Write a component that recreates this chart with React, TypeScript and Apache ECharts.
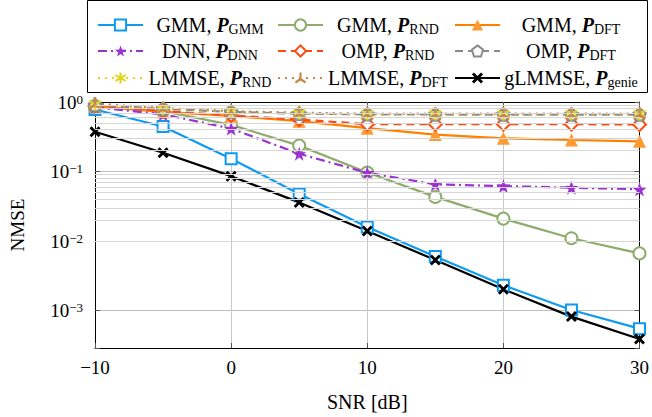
import React, { useEffect, useRef } from 'react';
import * as echarts from 'echarts';

// ---------- data ----------
const snr = [-10, -5, 0, 5, 10, 15, 20, 25, 30];
const gmmPgmm = [0.78, 0.445, 0.153, 0.0476, 0.0159, 0.006, 0.00232, 0.00102, 0.00055];
const gmmPrnd = [0.85, 0.74, 0.469, 0.236, 0.0968, 0.0432, 0.021, 0.011, 0.00665];
const gmmPdft = [0.87, 0.72, 0.63, 0.53, 0.42, 0.34, 0.3, 0.284, 0.272];
const dnnPdnn = [0.84, 0.665, 0.415, 0.18, 0.096, 0.0654, 0.0618, 0.0587, 0.0555];
const ompPrnd = [0.88, 0.74, 0.64, 0.56, 0.48, 0.48, 0.48, 0.48, 0.475];
const ompPdft = [0.9, 0.8, 0.72, 0.68, 0.665, 0.66, 0.66, 0.66, 0.66];
const lmmsePrnd = [0.93, 0.8, 0.73, 0.69, 0.67, 0.67, 0.67, 0.67, 0.67];
const lmmsePdft = [0.95, 0.82, 0.74, 0.7, 0.68, 0.68, 0.68, 0.68, 0.68];
const glmmse = [0.373, 0.186, 0.0858, 0.036, 0.01395, 0.00534, 0.00203, 0.00082, 0.00039];

const xTickValues = [-10, 0, 10, 20, 30];
const yMin = 2.9e-4;
const yMax = 1;
const minorMultipliers = [2, 3, 4, 5, 6, 7, 8, 9];
const minorDecades = [1e-4, 1e-3, 1e-2, 1e-1];

const FONT = 'Liberation Serif';

// ---------- symbol shapes ----------
const STAR5 =
  'path://M0 -100 L23.5 -32.4 L95.1 -30.9 L38 12.4 L58.8 80.9 L0 40 L-58.8 80.9 L-38 12.4 L-95.1 -30.9 L-23.5 -32.4 Z';
const PENTAGON = 'path://M0 -100 L95 -31 L59 81 L-59 81 L-95 -31 Z';
const ASTERISK =
  'path://M-18 -100 L18 -100 L18 100 L-18 100 Z M-77.6 -65.6 L95.6 34.4 L77.6 65.6 L-95.6 -34.4 Z M95.6 -34.4 L-77.6 65.6 L-95.6 34.4 L77.6 -65.6 Z';
const TRISTAR =
  'path://M-18 0 L-18 -100 L18 -100 L18 0 Z M9 -15.6 L95.6 34.4 L77.6 65.6 L-9 15.6 Z M9 15.6 L-77.6 65.6 L-95.6 34.4 L-9 -15.6 Z';
const XMARK =
  'path://M-55.1 -86.3 L86.3 55.1 L55.1 86.3 L-86.3 -55.1 Z M86.3 -55.1 L-55.1 86.3 L-86.3 55.1 L55.1 -86.3 Z';

type Def = {
  name: string;
  pre: string;
  sub: string;
  data: number[];
  color: string;
  dash: any;
  symbol: string;
  size: number;
  fill: string;
  border: number;
  col: number;
  row: number;
};

const defs: Def[] = [
  { name: 'GMM, P_GMM', pre: 'GMM, ', sub: 'GMM', data: gmmPgmm, color: '#0f9af2', dash: 'solid', symbol: 'emptyRect', size: 11, fill: '#0f9af2', border: 2, col: 0, row: 0 },
  { name: 'GMM, P_RND', pre: 'GMM, ', sub: 'RND', data: gmmPrnd, color: '#8fac6c', dash: 'solid', symbol: 'emptyCircle', size: 12, fill: '#8fac6c', border: 2, col: 1, row: 0 },
  { name: 'GMM, P_DFT', pre: 'GMM, ', sub: 'DFT', data: gmmPdft, color: '#ff8000', dash: 'solid', symbol: 'triangle', size: 13, fill: '#ff9a33', border: 0, col: 2, row: 0 },
  { name: 'DNN, P_DNN', pre: 'DNN, ', sub: 'DNN', data: dnnPdnn, color: '#9b32d2', dash: [9, 4, 2, 4], symbol: STAR5, size: 14, fill: '#9b32d2', border: 0, col: 0, row: 1 },
  { name: 'OMP, P_RND', pre: 'OMP, ', sub: 'RND', data: ompPrnd, color: '#ff4a10', dash: [8, 5], symbol: 'emptyDiamond', size: 13, fill: '#ff4a10', border: 2, col: 1, row: 1 },
  { name: 'OMP, P_DFT', pre: 'OMP, ', sub: 'DFT', data: ompPdft, color: '#8a8a8a', dash: [8, 5], symbol: PENTAGON, size: 12, fill: '#ffffff', border: 2.5, col: 2, row: 1 },
  { name: 'LMMSE, P_RND', pre: 'LMMSE, ', sub: 'RND', data: lmmsePrnd, color: '#e0d620', dash: [2, 5], symbol: ASTERISK, size: 13, fill: '#e0d620', border: 0, col: 0, row: 2 },
  { name: 'LMMSE, P_DFT', pre: 'LMMSE, ', sub: 'DFT', data: lmmsePdft, color: '#c8864a', dash: [2, 5], symbol: TRISTAR, size: 13, fill: '#c8864a', border: 0, col: 1, row: 2 },
  { name: 'gLMMSE, P_genie', pre: 'gLMMSE, ', sub: 'genie', data: glmmse, color: '#000000', dash: 'solid', symbol: XMARK, size: 11, fill: '#000000', border: 0, col: 2, row: 2 },
];

const colIconX = [97, 277, 454];
const colTextW = [124, 120, 132];
const rowCenterY = [21, 47, 74];

function minus(v: number) {
  return v < 0 ? '\u2212' + Math.abs(v) : String(v);
}

export default function App() {
  const ref = useRef<HTMLDivElement>(null);
  useEffect(() => {
    if (!ref.current) return;
    const chart = echarts.init(ref.current, null, { renderer: 'svg' });

    const series: any[] = defs.map((d) => ({
      type: 'line',
      name: d.name,
      data: snr.map((x, i) => [x, d.data[i]]),
      symbol: d.symbol,
      symbolSize: d.size,
      showSymbol: true,
      showAllSymbol: true,
      lineStyle: { color: d.color, width: 2.2, type: d.dash },
      itemStyle:
        d.symbol.indexOf('empty') === 0
          ? { color: d.color, borderColor: d.color, borderWidth: d.border }
          : { color: d.fill, borderColor: d.color, borderWidth: d.border },
      emphasis: { disabled: true },
      z: 3,
    }));

    const minorVals: number[] = [];
    minorDecades.forEach((dec) =>
      minorMultipliers.forEach((m) => {
        const v = m * dec;
        if (v > yMin && v < yMax) minorVals.push(v);
      })
    );
    series.unshift({
      type: 'line',
      name: '__minor',
      data: [],
      silent: true,
      z: 1,
      markLine: {
        silent: true,
        symbol: ['none', 'none'],
        label: { show: false },
        lineStyle: { color: '#d6d6d6', width: 1, type: 'solid' },
        data: minorVals.map((v) => ({ yAxis: v })),
      },
    });

    const legends = defs.map((d) => ({
      show: true,
      data: [d.name],
      left: colIconX[d.col],
      top: rowCenterY[d.row] - 7,
      padding: 0,
      itemWidth: 45,
      itemHeight: 14,
      itemGap: 0,
      selectedMode: false,
      formatter: () => `{t|${d.pre}}{b|P}{s|${d.sub}}`,
      textStyle: {
        width: colTextW[d.col],
        color: '#000',
        fontFamily: FONT,
        fontSize: 20,
        lineHeight: 22,
        rich: {
          t: { fontFamily: FONT, fontSize: 20, lineHeight: 22, align: 'center', color: '#000' },
          b: { fontFamily: FONT, fontSize: 20, lineHeight: 22, fontWeight: 'bold', fontStyle: 'italic', align: 'center', color: '#000' },
          s: { fontFamily: FONT, fontSize: 14, lineHeight: 14, verticalAlign: 'bottom', align: 'center', color: '#000' },
        },
      },
    }));

    const yLabelFormatter = (v: number) => {
      const e = Math.log10(v);
      const r = Math.round(e);
      if (Math.abs(e - r) > 1e-6) return '';
      return `{n|10}{sup|${minus(r)}}`;
    };
    const yRich = {
      n: { fontFamily: FONT, fontSize: 19, lineHeight: 19, verticalAlign: 'bottom', color: '#000' },
      sup: { fontFamily: FONT, fontSize: 13, lineHeight: 13, verticalAlign: 'top', padding: [0, 0, 9, 0], color: '#000' },
    };

    const option: any = {
      animation: false,
      backgroundColor: '#fff',
      grid: { left: 94, right: 8, top: 102, bottom: 65, containLabel: false },
      legend: legends,
      graphic: [
        {
          type: 'rect',
          shape: { x: 87.5, y: 0.5, width: 560, height: 92 },
          style: { fill: 'none', stroke: '#000', lineWidth: 1 },
          silent: true,
          z: 10,
        },
      ],
      xAxis: [
        {
          type: 'value',
          min: -10,
          max: 30,
          interval: 10,
          position: 'bottom',
          name: 'SNR [dB]',
          nameLocation: 'middle',
          nameGap: 44,
          nameTextStyle: { fontFamily: FONT, fontSize: 20, color: '#000' },
          axisLine: { show: true, onZero: false, lineStyle: { color: '#000', width: 1 } },
          axisTick: { show: true, inside: true, length: 5, lineStyle: { color: '#555' } },
          axisLabel: {
            show: true,
            margin: 10,
            fontFamily: FONT,
            fontSize: 19,
            color: '#000',
            formatter: (v: number) => (xTickValues.indexOf(v) >= 0 ? minus(v) : ''),
          },
          splitLine: { show: true, lineStyle: { color: '#c8c8c8', width: 1 } },
        },
        {
          type: 'value',
          min: -10,
          max: 30,
          interval: 10,
          position: 'top',
          axisLine: { show: true, onZero: false, lineStyle: { color: '#000', width: 1 } },
          axisTick: { show: true, inside: true, length: 5, lineStyle: { color: '#555' } },
          axisLabel: { show: false },
          splitLine: { show: false },
        },
      ],
      yAxis: [
        {
          type: 'log',
          logBase: 10,
          min: yMin,
          max: yMax,
          splitNumber: 4,
          position: 'left',
          name: 'NMSE',
          nameLocation: 'middle',
          nameGap: 68,
          nameTextStyle: { fontFamily: FONT, fontSize: 19, color: '#000' },
          axisLine: { show: true, onZero: false, lineStyle: { color: '#000', width: 1 } },
          axisTick: { show: true, inside: true, length: 5, lineStyle: { color: '#555' } },
          axisLabel: {
            show: true,
            margin: 12,
            formatter: yLabelFormatter,
            rich: yRich,
          },
          splitLine: { show: true, lineStyle: { color: '#bdbdbd', width: 1 } },
        },
        {
          type: 'log',
          logBase: 10,
          min: yMin,
          max: yMax,
          splitNumber: 4,
          position: 'right',
          axisLine: { show: true, onZero: false, lineStyle: { color: '#000', width: 1 } },
          axisTick: { show: true, inside: true, length: 5, lineStyle: { color: '#555' } },
          axisLabel: { show: false },
          splitLine: { show: false },
        },
      ],
      series,
    };

    chart.setOption(option);
    return () => chart.dispose();
  }, []);

  return (
    <div
      ref={ref}
      style={{ position: 'absolute', left: 0, top: 0, width: 652, height: 417, background: '#fff' }}
    />
  );
}
